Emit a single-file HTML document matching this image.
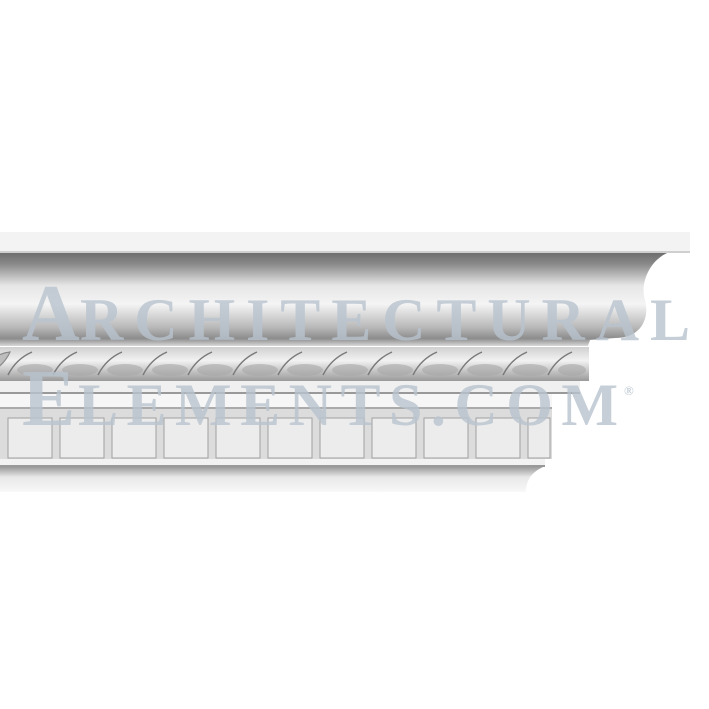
<!DOCTYPE html>
<html><head><style>
html,body{margin:0;padding:0;background:#fff;width:709px;height:709px;overflow:hidden}
</style></head><body>
<svg width="709" height="709" viewBox="0 0 709 709" xmlns="http://www.w3.org/2000/svg">
<defs>
<linearGradient id="cove" x1="0" y1="0" x2="0" y2="1">
<stop offset="0" stop-color="#6e6e6e"/>
<stop offset="0.12" stop-color="#8a8a8a"/>
<stop offset="0.35" stop-color="#e6e6e6"/>
<stop offset="0.55" stop-color="#f4f4f4"/>
<stop offset="0.8" stop-color="#b8b8b8"/>
<stop offset="0.92" stop-color="#8c8c8c"/>
<stop offset="1" stop-color="#d8d8d8"/>
</linearGradient>
<linearGradient id="rope" x1="0" y1="0" x2="0" y2="1">
<stop offset="0" stop-color="#d0d0d0"/>
<stop offset="0.4" stop-color="#f2f2f2"/>
<stop offset="1" stop-color="#9a9a9a"/>
</linearGradient>
<linearGradient id="bot" x1="0" y1="0" x2="0" y2="1">
<stop offset="0" stop-color="#9a9a9a"/>
<stop offset="0.4" stop-color="#e8e8e8"/>
<stop offset="1" stop-color="#f8f8f8"/>
</linearGradient>
</defs>
<!-- top band -->
<rect x="0" y="232" width="690" height="20" fill="#f3f3f3"/>
<rect x="0" y="251" width="690" height="2" fill="#cfcfcf"/>
<!-- cove -->
<path d="M0,253 L667,253 C648,262 640,285 645,300 C650,320 640,338 615,338 L590,340 L588,346 L0,346 Z" fill="url(#cove)"/>
<!-- rope band -->
<rect x="0" y="347" width="589" height="34" fill="url(#rope)"/>
<g fill="#bdbdbd" stroke="#8a8a8a" stroke-width="1.2">
<path d="M-20,376 q10,-22 30,-24 q-8,18 -30,24z"/>
</g>
<g id="ropes">
</g>
<g stroke="#7a7a7a" stroke-width="1.5" fill="none">
<path d="M8,375 q8,-16 24,-23 M53,375 q8,-16 24,-23 M98,375 q8,-16 24,-23 M143,375 q8,-16 24,-23 M188,375 q8,-16 24,-23 M233,375 q8,-16 24,-23 M278,375 q8,-16 24,-23 M323,375 q8,-16 24,-23 M368,375 q8,-16 24,-23 M413,375 q8,-16 24,-23 M458,375 q8,-16 24,-23 M503,375 q8,-16 24,-23 M548,375 q8,-16 24,-23"/>
</g>
<g fill="#a8a8a8" opacity="0.6">
<ellipse cx="35" cy="370" rx="18" ry="6"/><ellipse cx="80" cy="370" rx="18" ry="6"/><ellipse cx="125" cy="370" rx="18" ry="6"/><ellipse cx="170" cy="370" rx="18" ry="6"/><ellipse cx="215" cy="370" rx="18" ry="6"/><ellipse cx="260" cy="370" rx="18" ry="6"/><ellipse cx="305" cy="370" rx="18" ry="6"/><ellipse cx="350" cy="370" rx="18" ry="6"/><ellipse cx="395" cy="370" rx="18" ry="6"/><ellipse cx="440" cy="370" rx="18" ry="6"/><ellipse cx="485" cy="370" rx="18" ry="6"/><ellipse cx="530" cy="370" rx="18" ry="6"/><ellipse cx="572" cy="370" rx="14" ry="6"/>
</g>
<!-- fillets -->
<rect x="0" y="381" width="580" height="12" fill="#f0f0f0"/>
<rect x="0" y="392" width="580" height="2" fill="#999"/>
<rect x="0" y="394" width="552" height="14" fill="#f6f6f6"/>
<rect x="0" y="407" width="552" height="2" fill="#aaa"/>
<rect x="0" y="409" width="552" height="50" fill="#dcdcdc"/>
<g fill="#ececec" stroke="#a0a0a0" stroke-width="1">
<rect x="8" y="418" width="44" height="40"/><rect x="60" y="418" width="44" height="40"/><rect x="112" y="418" width="44" height="40"/><rect x="164" y="418" width="44" height="40"/><rect x="216" y="418" width="44" height="40"/><rect x="268" y="418" width="44" height="40"/><rect x="320" y="418" width="44" height="40"/><rect x="372" y="418" width="44" height="40"/><rect x="424" y="418" width="44" height="40"/><rect x="476" y="418" width="44" height="40"/><rect x="528" y="418" width="22" height="40"/>
</g>
<!-- bottom -->
<rect x="0" y="459" width="545" height="7" fill="#f2f2f2"/>
<rect x="0" y="465" width="545" height="2" fill="#999"/>
<path d="M0,467 L543,467 C532,472 526,480 526,492 L0,492 Z" fill="url(#bot)"/>
<!-- watermark -->
<g font-family="Liberation Serif, serif" font-weight="bold" fill="#b9c4cf" opacity="0.8">
<text x="22" y="340" font-size="80">A</text>
<text x="80" y="340" font-size="60" textLength="610" lengthAdjust="spacing">RCHITECTURAL</text>
<text x="22" y="425" font-size="80">E</text>
<text x="78" y="425" font-size="60" textLength="540" lengthAdjust="spacing">LEMENTS.COM</text>
<text x="624" y="395" font-size="13">®</text>
</g>
</svg>
</body></html>
